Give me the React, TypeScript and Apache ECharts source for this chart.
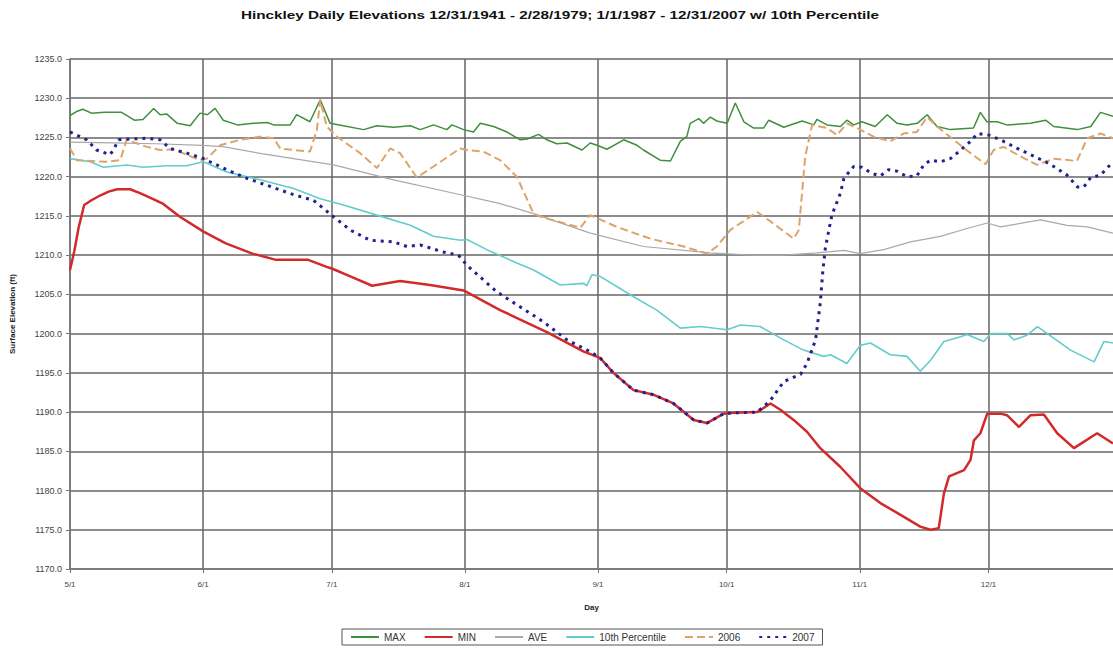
import React, { useEffect, useRef } from "react";
import * as echarts from "echarts";

const titleText = "Hinckley Daily Elevations 12/31/1941 - 2/28/1979; 1/1/1987 - 12/31/2007 w/ 10th Percentile";
const monthTicks = [0, 31, 61, 92, 123, 153, 184, 214];
const monthLabels = ["5/1", "6/1", "7/1", "8/1", "9/1", "10/1", "11/1", "12/1"];

// [day since 5/1, elevation]
const maxData = [[0,1227.8],[1.5,1228.3],[3,1228.6],[5,1228.1],[8,1228.2],[12,1228.2],[15,1227.2],[17,1227.3],[19.5,1228.7],[21,1227.9],[22.5,1228.0],[25,1226.8],[28,1226.5],[30.3,1228.1],[32,1227.9],[33.8,1228.7],[35.7,1227.2],[39,1226.6],[42.7,1226.8],[46,1226.9],[47.4,1226.6],[51.3,1226.6],[52.8,1227.9],[55.9,1227.0],[58.3,1229.8],[60.6,1226.8],[63.7,1226.5],[68.4,1226.0],[71.5,1226.5],[75.4,1226.3],[79.3,1226.5],[81.6,1226.0],[84.7,1226.6],[87.8,1226.0],[89,1226.6],[91.7,1226.0],[94,1225.7],[95.6,1226.8],[98.7,1226.4],[101.8,1225.7],[104.9,1224.7],[106.5,1224.8],[109.2,1225.4],[111.1,1224.7],[113.4,1224.2],[115.8,1224.3],[119.3,1223.4],[121.2,1224.3],[122.8,1224.0],[125.1,1223.5],[129,1224.7],[132.1,1224.0],[133.6,1223.4],[137.5,1222.1],[139.9,1222.0],[142.2,1224.5],[143.7,1225.1],[144.5,1226.8],[146.5,1227.4],[147.6,1226.8],[149.2,1227.6],[150.7,1227.1],[153.1,1226.8],[155,1229.4],[157,1227.0],[159.3,1226.2],[161.6,1226.2],[162.8,1227.2],[166.3,1226.3],[170.6,1227.1],[173.3,1226.6],[174,1227.3],[176.4,1226.6],[179.5,1226.4],[181,1227.2],[182.6,1226.6],[184.5,1227.0],[187.6,1226.4],[190.4,1227.9],[192.7,1226.8],[195,1226.6],[197.4,1226.8],[199.7,1227.9],[202,1226.4],[205.1,1226.0],[210.5,1226.2],[212.1,1228.2],[213.6,1227.0],[216,1227.0],[218.3,1226.6],[223.8,1226.8],[227.3,1227.2],[229.2,1226.4],[234.7,1226.0],[237.8,1226.4],[240.1,1228.2],[243,1227.7]];

const minData = [[0,1208.1],[1,1210.5],[2,1213.5],[3.3,1216.4],[5,1217.0],[7,1217.6],[9,1218.1],[11,1218.4],[14,1218.4],[16.3,1217.9],[18,1217.5],[21.5,1216.6],[25.6,1214.9],[31.1,1213.0],[36.3,1211.5],[42.5,1210.2],[48,1209.4],[55.5,1209.4],[59.8,1208.5],[61,1208.3],[65.3,1207.3],[70.4,1206.1],[76.9,1206.7],[83.9,1206.2],[91.7,1205.5],[100.2,1203.0],[111.1,1200.2],[119.7,1197.7],[123.5,1196.9],[126.6,1195.0],[131.3,1192.8],[136,1192.2],[140.6,1191.1],[145.3,1189.0],[148.4,1188.6],[152.3,1189.8],[154.6,1189.9],[160.1,1190.0],[163.2,1191.1],[165.5,1190.3],[168.6,1189.0],[171.7,1187.5],[174.8,1185.4],[179.5,1183.0],[184.1,1180.3],[188.8,1178.4],[193.5,1176.9],[198.1,1175.4],[200.5,1175.0],[202.4,1175.2],[203.6,1179.6],[204.8,1181.8],[208.3,1182.6],[209.8,1183.9],[210.6,1186.4],[212.1,1187.3],[213.7,1189.8],[216.8,1189.8],[218.3,1189.6],[221.1,1188.1],[223.8,1189.6],[226.9,1189.7],[230,1187.3],[233.9,1185.4],[239.3,1187.3],[243,1186.0]];

const aveData = [[0,1224.4],[10,1224.3],[20,1224.2],[31,1224.0],[36,1223.8],[45,1222.9],[61.4,1221.5],[75.4,1219.6],[91,1217.7],[100,1216.6],[108,1215.3],[121.2,1212.8],[133.6,1211.1],[149.2,1210.3],[158.5,1210.0],[166.3,1210.0],[174,1210.3],[180.3,1210.6],[184.1,1210.2],[189.6,1210.7],[195.8,1211.7],[202.8,1212.4],[209,1213.4],[213.7,1214.1],[216.8,1213.6],[226.1,1214.5],[232.3,1213.8],[237,1213.6],[243,1212.8]];

const p10Data = [[0,1222.3],[4.7,1221.9],[7.8,1221.2],[13.2,1221.5],[17.1,1221.2],[22.5,1221.4],[27.2,1221.4],[31.1,1221.9],[36.5,1220.6],[44.3,1219.6],[52.1,1218.5],[58.3,1217.2],[63.7,1216.4],[71.5,1215.1],[79.3,1213.8],[84.7,1212.4],[91,1211.9],[92.5,1212.0],[97.1,1210.7],[104.1,1209.0],[108,1208.1],[114.2,1206.2],[119.7,1206.4],[120.4,1206.1],[121.6,1207.5],[123.5,1207.3],[131.3,1204.7],[136.7,1203.0],[142.2,1200.7],[146.9,1200.9],[153.1,1200.5],[156.2,1201.1],[160.8,1200.9],[166.3,1199.2],[170.9,1197.9],[175.6,1197.1],[177.2,1197.3],[181,1196.2],[184.1,1198.5],[186.5,1198.8],[191.1,1197.3],[195,1197.1],[198.1,1195.2],[200.5,1196.6],[203.6,1199.0],[207.5,1199.6],[209,1199.9],[212.9,1199.0],[214.5,1200.0],[218.4,1200.0],[219.9,1199.2],[223,1199.8],[225.4,1200.9],[227.7,1200.0],[233.1,1197.9],[238.6,1196.4],[240.9,1199.0],[243,1198.8]];

const y2006Data = [[0,1223.6],[1.6,1222.1],[8.6,1221.9],[11.7,1222.1],[13.2,1224.7],[17.9,1223.8],[21,1223.4],[24.1,1223.5],[30.3,1222.1],[31.9,1222.3],[35,1224.0],[39.6,1224.7],[44.3,1225.1],[47.4,1224.9],[49,1223.6],[52.1,1223.4],[55.9,1223.2],[57.5,1225.9],[58.3,1229.8],[59.8,1226.4],[62.2,1225.1],[67.6,1223.0],[71.5,1221.1],[74.6,1223.6],[76.9,1223.0],[80.8,1219.9],[84.7,1221.3],[90.9,1223.6],[92.5,1223.4],[96.3,1223.2],[100.2,1222.1],[104.1,1220.0],[108,1215.3],[109.6,1214.9],[118.9,1213.5],[121.2,1215.1],[127.4,1213.6],[135.2,1212.1],[143,1211.1],[148.4,1210.2],[150.7,1211.1],[153.8,1213.2],[160.1,1215.5],[163.2,1214.3],[168.6,1212.1],[169.8,1213.2],[171.3,1222.6],[172.9,1226.6],[176.4,1226.2],[178.7,1225.3],[181,1226.8],[184.1,1226.0],[187.2,1225.1],[191.1,1224.5],[194.2,1225.5],[197.3,1225.7],[199.7,1227.6],[202,1226.4],[205.9,1224.7],[209.8,1223.0],[213.3,1221.6],[215.2,1223.4],[217.5,1223.8],[221.4,1222.6],[225.3,1221.5],[229.2,1222.3],[234.6,1222.0],[237,1224.9],[240.1,1225.5],[243,1224.9]];

const y2007Data = [[0,1225.7],[3.9,1224.7],[6.2,1223.4],[9.3,1222.8],[10.1,1223.4],[11.3,1224.7],[14,1224.8],[17.9,1224.9],[21,1224.7],[23.3,1223.6],[27.2,1223.0],[31.1,1222.3],[36.5,1220.9],[41.2,1219.8],[45.9,1218.9],[52.1,1217.7],[56.7,1217.0],[61.4,1214.9],[65.3,1213.2],[69.9,1211.9],[75.4,1211.7],[78.5,1211.1],[81.6,1211.3],[87,1210.4],[90.5,1210.0],[92.5,1208.7],[99.5,1205.3],[104.9,1203.4],[110.3,1201.5],[115.8,1199.2],[121.2,1197.7],[123.5,1196.9],[126.6,1195.0],[131.3,1192.8],[136,1192.2],[140.6,1191.1],[145.3,1189.0],[148.4,1188.6],[152.3,1189.8],[154.6,1189.9],[160.1,1190.0],[163.2,1191.5],[166.3,1193.9],[170.2,1194.8],[171.7,1196.2],[173.7,1199.2],[174.8,1203.9],[175.4,1208.0],[176,1211.0],[177.5,1215.1],[179.5,1217.9],[180.3,1219.8],[182.6,1221.3],[184.5,1221.2],[186.9,1220.4],[188.8,1220.1],[190.7,1220.9],[192.7,1220.7],[195,1220.0],[197.3,1220.1],[198.9,1221.5],[200.5,1222.1],[202.8,1221.9],[205.1,1222.3],[207.1,1223.2],[209.8,1224.5],[211.4,1225.5],[214.1,1225.3],[216.8,1224.7],[220.7,1223.6],[224.6,1222.6],[227.3,1221.9],[229.2,1221.3],[232.3,1220.2],[234.7,1218.7],[236.2,1218.7],[237.8,1219.9],[240.1,1220.2],[243,1221.9]];

const FONT = "Liberation Sans, Arial, sans-serif";

export default function App() {
  const ref = useRef<HTMLDivElement>(null);
  useEffect(() => {
    if (!ref.current) return;
    const chart = echarts.init(ref.current, null, { renderer: "svg" });
    const line = (name: string, data: number[][], color: string, width: number, type: any = "solid") => ({
      name,
      type: "line",
      data,
      showSymbol: false,
      symbol: "none",
      lineStyle: { color, width, type },
      itemStyle: { color },
      z: 3,
    });
    chart.setOption({
      animation: false,
      backgroundColor: "#ffffff",
      graphic: [
        {
          type: "text",
          x: 560,
          y: 15,
          scaleX: 1.39,
          style: {
            text: titleText,
            fontFamily: FONT,
            fontSize: 11,
            fontWeight: "bold",
            fill: "#111",
            textAlign: "center",
            textVerticalAlign: "middle",
          },
        },
      ],
      legend: {
        bottom: 3,
        left: 342,
        borderColor: "#555",
        borderWidth: 1,
        padding: [3, 8, 3, 8],
        itemGap: 18,
        itemWidth: 28,
        itemHeight: 8,
        itemStyle: { opacity: 0 },
        textStyle: { fontFamily: FONT, fontSize: 10, color: "#333" },
        data: ["MAX", "MIN", "AVE", "10th Percentile", "2006", "2007"],
      },
      grid: { left: 70, right: 0, top: 59, bottom: 79, containLabel: false },
      xAxis: {
        type: "value",
        min: 0,
        max: 243,
        name: "Day",
        nameLocation: "middle",
        nameGap: 34,
        nameTextStyle: { fontFamily: FONT, fontSize: 8, fontWeight: "bold", color: "#222" },
        axisLine: { show: true, lineStyle: { color: "#777", width: 1.5 } },
        axisTick: { show: true, customValues: monthTicks, length: 4, inside: false, lineStyle: { color: "#777" } },
        axisLabel: {
          customValues: monthTicks,
          formatter: (v: number) => monthLabels[monthTicks.indexOf(v)] ?? "",
          fontFamily: FONT,
          fontSize: 8,
          color: "#444",
          margin: 11,
        },
        splitLine: { show: true, lineStyle: { color: "#666", width: 1.5 } },
      },
      yAxis: {
        type: "value",
        min: 1170,
        max: 1235,
        interval: 5,
        name: "Surface Elevation (ft)",
        nameLocation: "middle",
        nameGap: 54,
        nameRotate: 90,
        nameTextStyle: { fontFamily: FONT, fontSize: 8, fontWeight: "bold", color: "#222" },
        axisLine: { show: true, lineStyle: { color: "#777", width: 1.5 } },
        axisTick: { show: true, length: 4, lineStyle: { color: "#777" } },
        axisLabel: {
          formatter: (v: number) => v.toFixed(1),
          fontFamily: FONT,
          fontSize: 9,
          color: "#444",
          margin: 8,
        },
        splitLine: { show: true, lineStyle: { color: "#666", width: 1.5 } },
      },
      series: [
        line("MAX", maxData, "#3f8f3f", 1.5),
        line("MIN", minData, "#d22a2a", 2.5),
        line("AVE", aveData, "#a9a9a9", 1.2),
        line("10th Percentile", p10Data, "#63cccc", 1.6),
        line("2006", y2006Data, "#dca46a", 2, [8, 4]),
        line("2007", y2007Data, "#22228f", 3, [3, 5]),
      ],
    });
    return () => chart.dispose();
  }, []);
  return (
    <div
      ref={ref}
      style={{ position: "fixed", left: 0, top: 0, width: 1113, height: 648, background: "#fff" }}
    />
  );
}
